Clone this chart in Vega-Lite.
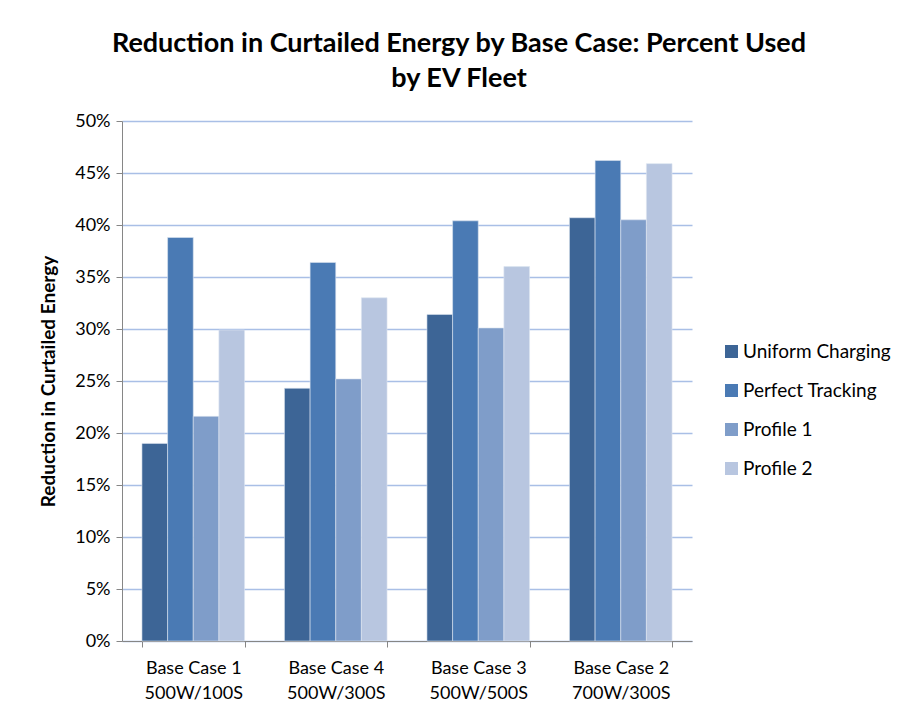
{
  "$schema": "https://vega.github.io/schema/vega-lite/v6.json",
  "autosize": "none",
  "width": 570,
  "height": 520,
  "padding": {"left": 122, "top": 121, "right": 208, "bottom": 74},
  "background": "white",
  "title": {
    "text": ["Reduction in Curtailed Energy by Base Case: Percent Used", "by EV Fleet"],
    "font": "Lato",
    "fontSize": 27,
    "fontWeight": "bold",
    "color": "#000000",
    "anchor": "middle",
    "dx": 52,
    "offset": 19,
    "lineHeight": 35
  },
  "data": {
    "values": [
      {"case": "Base Case 1|500W/100S", "series": "Uniform Charging", "value": 0.190},
      {"case": "Base Case 1|500W/100S", "series": "Perfect Tracking", "value": 0.388},
      {"case": "Base Case 1|500W/100S", "series": "Profile 1", "value": 0.216},
      {"case": "Base Case 1|500W/100S", "series": "Profile 2", "value": 0.299},
      {"case": "Base Case 4|500W/300S", "series": "Uniform Charging", "value": 0.243},
      {"case": "Base Case 4|500W/300S", "series": "Perfect Tracking", "value": 0.364},
      {"case": "Base Case 4|500W/300S", "series": "Profile 1", "value": 0.252},
      {"case": "Base Case 4|500W/300S", "series": "Profile 2", "value": 0.330},
      {"case": "Base Case 3|500W/500S", "series": "Uniform Charging", "value": 0.314},
      {"case": "Base Case 3|500W/500S", "series": "Perfect Tracking", "value": 0.404},
      {"case": "Base Case 3|500W/500S", "series": "Profile 1", "value": 0.301},
      {"case": "Base Case 3|500W/500S", "series": "Profile 2", "value": 0.360},
      {"case": "Base Case 2|700W/300S", "series": "Uniform Charging", "value": 0.407},
      {"case": "Base Case 2|700W/300S", "series": "Perfect Tracking", "value": 0.462},
      {"case": "Base Case 2|700W/300S", "series": "Profile 1", "value": 0.405},
      {"case": "Base Case 2|700W/300S", "series": "Profile 2", "value": 0.459}
    ]
  },
  "mark": {"type": "bar", "stroke": "#DCE4F0", "strokeWidth": 0.6},
  "encoding": {
    "x": {
      "field": "case",
      "type": "nominal",
      "sort": null,
      "scale": {"paddingInner": 0.28, "paddingOuter": 0.14},
      "axis": {
        "title": null,
        "labelAngle": 0,
        "labelExpr": "split(datum.label, '|')",
        "labelFont": "Lato",
        "labelFontSize": 18,
        "labelColor": "#000000",
        "labelLineHeight": 25,
        "labelPadding": 12,
        "tickBand": "extent",
        "tickSize": 6,
        "tickColor": "#868686",
        "domainColor": "#868686",
        "grid": false
      }
    },
    "xOffset": {"field": "series", "type": "nominal", "sort": null, "scale": {"paddingInner": 0, "paddingOuter": 0}},
    "y": {
      "field": "value",
      "type": "quantitative",
      "scale": {"domain": [0, 0.5], "nice": false},
      "axis": {
        "title": "Reduction in Curtailed Energy",
        "titleFont": "Lato",
        "titleFontSize": 19,
        "titleFontWeight": "bold",
        "titleColor": "#000000",
        "titlePadding": 16,
        "format": ".0%",
        "values": [0, 0.05, 0.1, 0.15, 0.2, 0.25, 0.3, 0.35, 0.4, 0.45, 0.5],
        "labelFont": "Lato",
        "labelFontSize": 18,
        "labelColor": "#000000",
        "labelPadding": 6,
        "tickSize": 6,
        "tickColor": "#868686",
        "domainColor": "#868686",
        "gridColor": "#A9BFE6",
        "gridWidth": 1.3
      }
    },
    "color": {
      "field": "series",
      "type": "nominal",
      "sort": null,
      "scale": {
        "domain": ["Uniform Charging", "Perfect Tracking", "Profile 1", "Profile 2"],
        "range": ["#3D6596", "#4A7AB4", "#7F9DC9", "#B8C6E0"]
      },
      "legend": {
        "title": null,
        "orient": "none",
        "legendX": 600,
        "legendY": 221,
        "symbolType": "square",
        "symbolSize": 170,
        "symbolStrokeWidth": 0,
        "labelFont": "Lato",
        "labelFontSize": 19,
        "labelColor": "#000000",
        "rowPadding": 19,
        "labelOffset": 2
      }
    }
  },
  "config": {"view": {"stroke": null}}
}
